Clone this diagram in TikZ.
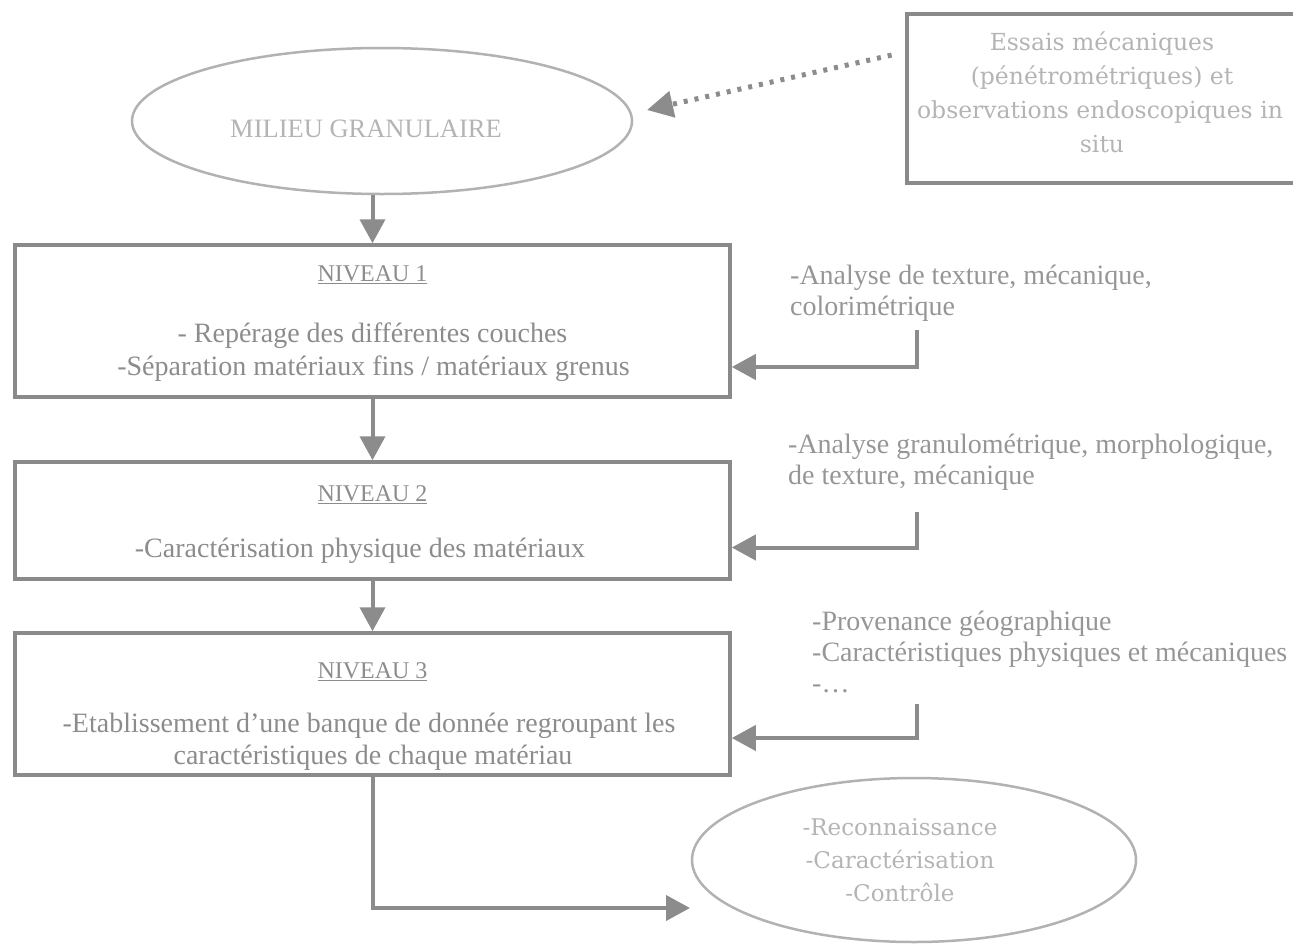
\documentclass[tikz,border=0pt]{standalone}
\usepackage{fontspec}
\setmainfont{Liberation Serif}
\newfontfamily\wideserif{DejaVu Serif}
\usetikzlibrary{arrows.meta,shapes.geometric}
\definecolor{linegray}{RGB}{140,140,140}
\definecolor{boxgray}{RGB}{138,138,138}
\definecolor{boxtext}{RGB}{140,140,140}
\definecolor{sidetextc}{RGB}{150,150,150}
\definecolor{lighttext}{RGB}{180,180,180}
\definecolor{elgray}{RGB}{178,178,178}
\begin{document}
\begin{tikzpicture}[x=1pt,y=-1pt,
  tipstyle/.style={-{Triangle[length=24pt,width=25pt]}},
  conn/.style={draw=linegray, line width=4pt, tipstyle},
  dotconn/.style={draw=linegray, line width=5pt, dash pattern=on 4pt off 7pt,
    -{Triangle[length=26pt,width=26pt]}},
  levelbox/.style={draw=boxgray, line width=3.5pt, rectangle, inner sep=0pt},
  ovalbox/.style={draw=elgray, line width=2.5pt, ellipse, inner sep=0pt},
  boxline/.style={anchor=base, inner sep=0pt, text=boxtext, font=\fontsize{28}{33}\selectfont},
  levellabel/.style={anchor=base, inner sep=0pt, text=boxtext, font=\fontsize{24}{30}\selectfont},
  sideline/.style={anchor=base west, inner sep=0pt, text=sidetextc, font=\fontsize{28}{32}\selectfont},
  wideline/.style={anchor=base, inner sep=0pt, text=lighttext, font=\wideserif\fontsize{23.5}{28}\selectfont},
  ovalline/.style={anchor=base, inner sep=0pt, text=lighttext, font=\wideserif\fontsize{23}{28}\selectfont},
]
\useasboundingbox (0,0) rectangle (1293,945);

% shapes
\node[ovalbox, minimum width=500pt, minimum height=146pt] (milieu) at (382,121) {};
\node[levelbox, minimum width=393pt, minimum height=169pt] (essais) at (1103.5,98.5) {};
\node[levelbox, minimum width=715pt, minimum height=152pt] (n1) at (372.5,321) {};
\node[levelbox, minimum width=715pt, minimum height=117pt] (n2) at (372.5,520.5) {};
\node[levelbox, minimum width=715pt, minimum height=142pt] (n3) at (372.5,704) {};
\node[ovalbox, minimum width=444pt, minimum height=164pt] (res) at (914,860) {};

% texts
\node[anchor=base, inner sep=0pt, text=lighttext, font=\fontsize{26.5}{30}\selectfont] (tmil) at (366,137) {MILIEU GRANULAIRE};

\node[wideline] (te1) at (1102,50) {Essais mécaniques};
\node[wideline] (te2) at (1102,84) {(pénétrométriques) et};
\node[wideline] (te3) at (1100,118) {observations endoscopiques in};
\node[wideline] (te4) at (1102,152) {situ};

\node[levellabel] (t11) at (372.5,281) {\underline{NIVEAU 1}};
\node[boxline] (t12) at (372.5,342) {- Repérage des différentes couches};
\node[boxline] (t13) at (373.5,375) {-Séparation matériaux fins / matériaux grenus};

\node[levellabel] (t21) at (372.5,501) {\underline{NIVEAU 2}};
\node[boxline] (t22) at (360,557) {-Caractérisation physique des matériaux};

\node[levellabel] (t31) at (372.5,678) {\underline{NIVEAU 3}};
\node[boxline] (t32) at (369,732) {-Etablissement d’une banque de donnée regroupant les};
\node[boxline] (t33) at (373,764) {caractéristiques de chaque matériau};

\node[sideline] (s11) at (790,284) {-Analyse de texture, mécanique,};
\node[sideline] (s12) at (790,315) {colorimétrique};
\node[sideline] (s21) at (788,453) {-Analyse granulométrique, morphologique,};
\node[sideline] (s22) at (788,484) {de texture, mécanique};
\node[sideline] (s31) at (812,630) {-Provenance géographique};
\node[sideline] (s32) at (812,661) {-Caractéristiques physiques et mécaniques};
\node[sideline] (s33) at (812,692) {-…};

\node[ovalline] (r1) at (900,835) {-Reconnaissance};
\node[ovalline] (r2) at (900,868) {-Caractérisation};
\node[ovalline] (r3) at (900,901) {-Contrôle};

% connectors
\coordinate (dend) at (647,110);
\draw[dotconn, shorten <=14pt] ([yshift=46.5pt]essais.west) -- (dend);

\draw[conn] (milieu.south -| n1.north) -- (n1.north);
\draw[conn] (n1.south) -- (n2.north);
\draw[conn] (n2.south) -- (n3.north);

\coordinate (a1) at (917,330);
\coordinate (a2) at (917,512);
\coordinate (a3) at (917,704);
\draw[conn] (a1) |- ([yshift=-46pt]n1.east);
\draw[conn] (a2) |- ([yshift=-27pt]n2.east);
\draw[conn] (a3) |- ([yshift=-34pt]n3.east);

\coordinate (fend) at (690,908);
\draw[conn] (n3.south) |- (fend);
\end{tikzpicture}
\end{document}
